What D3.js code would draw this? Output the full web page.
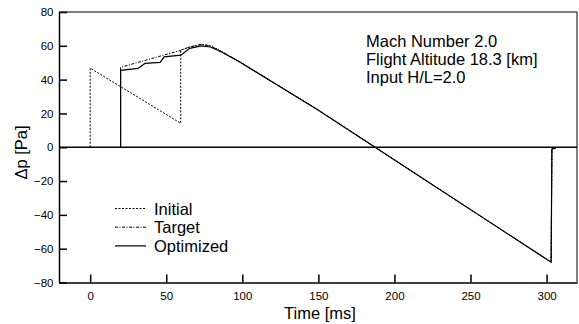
<!DOCTYPE html>
<html>
<head>
<meta charset="utf-8">
<script src="https://cdn.jsdelivr.net/npm/d3@7"></script>
<style>
  body { margin: 0; background: #fff; }
  svg { display: block; font-family: "Liberation Sans", Arial, sans-serif; }
  .axis text { font-size: 11.5px; fill: #000; }
  .axis path, .axis line { stroke: #000; stroke-width: 1.5; }
</style>
</head>
<body>
<div id="chart"></div>
<script>
// time [ms] / delta p [Pa]
const initialT = [0, 0, 59.5, 59.5, 65, 73, 79, 86, 98, 149, 303, 303.5, 306];
const initialP = [0, 46.8, 14.2, 57.5, 59.2, 60.8, 60, 56.8, 50.7, 22.5, -68, -1, -0.5];

const targetT = [20, 20, 59.5, 65, 73, 79, 86, 98, 149, 303, 303.5, 306];
const targetP = [0, 47.3, 57.3, 59.2, 60.9, 60, 56.8, 50.7, 22.5, -68, -1, -0.5];

const optimizedT = [20, 20, 31.5, 36, 46, 48.6, 59.6, 65.5, 73, 79, 86, 98, 149, 303, 303.5, 306];
const optimizedP = [0, 45.5, 46.6, 49.6, 50.2, 53.5, 54.5, 58.5, 60, 59.3, 56.5, 50.6, 22.5, -68, -1, -0.5];

const xTicks = [0, 50, 100, 150, 200, 250, 300];
const yTicks = [-80, -60, -40, -20, 0, 20, 40, 60, 80];
const legendNames = ['Initial', 'Target', 'Optimized'];
const notes = ['Mach Number 2.0', 'Flight Altitude 18.3 [km]', 'Input H/L=2.0'];

const width = 579, height = 324;
const margins = {top: 12, right: 2, bottom: 41.5, left: 59};

const svg = d3.select('#chart').append('svg')
  .attr('width', width)
  .attr('height', height);

const x = d3.scaleLinear().domain([-20.5, 320]).range([margins.left, width - margins.right]);
const y = d3.scaleLinear().domain([-80, 80]).range([height - margins.bottom, margins.top]);

// axes, ticks pointing inward
svg.append('g')
  .attr('class', 'axis')
  .attr('transform', `translate(0, ${y(-80)})`)
  .call(d3.axisBottom(x).tickValues(xTicks).tickSizeInner(-8).tickSizeOuter(0).tickPadding(9));

svg.append('g')
  .attr('class', 'axis')
  .attr('transform', `translate(${x(-20.5)}, 0)`)
  .call(d3.axisLeft(y).tickValues(yTicks).tickSizeInner(-8).tickSizeOuter(0).tickPadding(5.5));

// top / right border
svg.append('path')
  .attr('d', `M${x(-20.5)},${y(80)}H${x(320)}V${y(-80)}`)
  .attr('fill', 'none')
  .attr('stroke', '#000')
  .attr('stroke-width', 1);

// zero line
svg.append('line')
  .attr('x1', x(-20.5)).attr('x2', x(320))
  .attr('y1', y(0)).attr('y2', y(0))
  .attr('stroke', '#000')
  .attr('stroke-width', 1.3);

const styles = [
  {dash: '2,1.5', w: 1},
  {dash: '3,1.5,1,1.5', w: 1},
  {dash: null, w: 1.2}
];

const series = [
  d3.zip(initialT, initialP),
  d3.zip(targetT, targetP),
  d3.zip(optimizedT, optimizedP)
];

const line = d3.line().x(d => x(d[0])).y(d => y(d[1]));

series.forEach((pts, i) => {
  svg.append('path')
    .attr('d', line(pts))
    .attr('fill', 'none')
    .attr('stroke', '#000')
    .attr('stroke-width', styles[i].w)
    .attr('stroke-dasharray', styles[i].dash);
});

// legend
const legend = svg.append('g').attr('transform', 'translate(115, 208.5)');
legendNames.forEach((name, i) => {
  legend.append('line')
    .attr('x1', 0).attr('x2', 31)
    .attr('y1', i * 18.7).attr('y2', i * 18.7)
    .attr('stroke', '#000')
    .attr('stroke-width', styles[i].w)
    .attr('stroke-dasharray', styles[i].dash);
  legend.append('text')
    .attr('x', 39)
    .attr('y', i * 18.7 + 6)
    .attr('font-size', '16.5px')
    .text(name);
});

// annotation
notes.forEach((t, i) => {
  svg.append('text')
    .attr('x', 366)
    .attr('y', 46.7 + i * 18.3)
    .attr('font-size', '16.5px')
    .text(t);
});

// axis titles
svg.append('text')
  .attr('x', (x(-20.5) + x(320)) / 2 + 2)
  .attr('y', 319)
  .attr('text-anchor', 'middle')
  .attr('font-size', '16.5px')
  .text('Time [ms]');

svg.append('text')
  .attr('transform', 'translate(27, 152.5) rotate(-90)')
  .attr('text-anchor', 'middle')
  .attr('font-size', '16.5px')
  .text('Δp [Pa]');
</script>
</body>
</html>
